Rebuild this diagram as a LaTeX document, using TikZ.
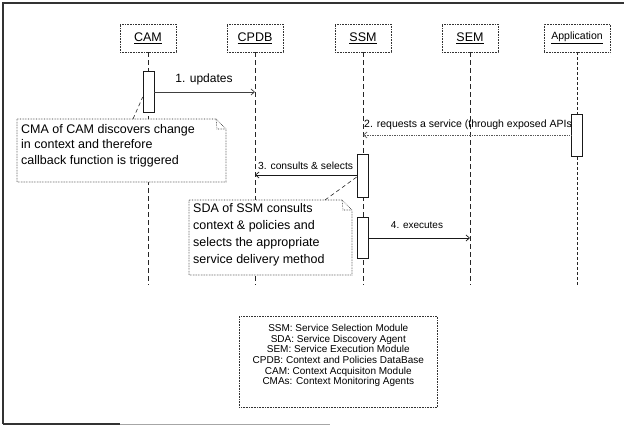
\documentclass[tikz,border=0pt]{standalone}
\usepackage{fontspec}
\setmainfont{Liberation Sans}
\usetikzlibrary{arrows.meta,calc}
\begin{document}
\begin{tikzpicture}[x=1pt,y=-1pt,
  head/.style={draw=black!80, densely dotted, fill=white, minimum width=56pt, minimum height=28pt, inner sep=0pt, line width=0.6pt, font=\fontsize{12.5}{14}\selectfont},
  life/.style={draw=black!85, dash pattern=on 5pt off 3pt, line width=0.6pt},
  act/.style={draw=black!90, fill=white, minimum width=11pt, inner sep=0pt, line width=0.6pt},
  msg/.style={draw=black!90, line width=0.7pt, -{Straight Barb[length=3.5pt,width=6pt]}},
  msgdot/.style={msg, draw=black!65, densely dotted},
  notebox/.style={draw=black!85, densely dotted, fill=white, line width=0.6pt},
  notetxt/.style={inner sep=0pt, align=left, anchor=north west},
  noteline/.style={draw=black!85, dash pattern=on 4pt off 3pt, line width=0.6pt},
  lbl/.style={inner sep=1pt},
  frameline/.style={draw=black!80, line width=1.2pt}
]
\useasboundingbox (0,0) rectangle (624,428);

% frame
\draw[frameline] (3,424) -- (3,3) -- (624,3);
\draw[frameline] (3,424) -- (120,424);
\draw[draw=black!35, line width=0.8pt] (120,424) -- (330,424);

% headers
\node[head] (cam)  at (148,38) {\underline{CAM}};
\node[head] (cpdb) at (255,38) {\underline{CPDB}};
\node[head] (ssm)  at (363,38) {\underline{SSM}};
\node[head] (sem)  at (470,38) {\underline{SEM}};
\node[head, minimum width=66pt, font=\fontsize{10.5}{12}\selectfont] (app) at (577,38) {\underline{Application}};

% lifeline ends
\coordinate (camE)  at (148,285);
\coordinate (cpdbE) at (255,285);
\coordinate (ssmE)  at (363,285);
\coordinate (semE)  at (470,285);
\coordinate (appE)  at (577,285);

\draw[life] (cam.south) -- (camE);
\draw[life] (cpdb.south) -- (cpdbE);
\draw[life] (ssm.south) -- (ssmE);
\draw[life] (sem.south) -- (semE);
\draw[life, dash pattern=on 3pt off 2pt] (app.south) -- (appE);

% activations
\node[act, minimum height=41pt] (camact) at (148.5,91.5) {};
\node[act, minimum height=42pt] (appact) at (577,135) {};
\node[act, minimum height=43pt] (ssmact1) at (362.5,175.5) {};
\node[act, minimum height=41pt] (ssmact2) at (362.5,237.5) {};

% message targets
\coordinate (m1e) at (255,92);
\coordinate (m2e) at (363,135);
\coordinate (m3e) at (255,175);
\coordinate (m4e) at (470,238);

% messages
\draw[msg, draw=black!75] (camact.east |- m1e) -- (m1e);
\node[lbl, font=\fontsize{12}{14}\selectfont, anchor=south] (l1) at (204,86) {1. updates};

\draw[msgdot] (appact.west |- m2e) -- (m2e);
\node[lbl, font=\fontsize{10.5}{12}\selectfont, anchor=south west] (l2) at (363,131) {2. requests a service (through exposed APIs};

\draw[msg] (ssmact1.west |- m3e) -- (m3e);
\node[lbl, font=\fontsize{10.3}{12}\selectfont, anchor=south west] (l3) at (257,171) {3. consults \& selects};

\draw[msg] (ssmact2.east |- m4e) -- (m4e);
\node[lbl, font=\fontsize{10}{12}\selectfont, anchor=south] (l4) at (417,230) {4. executes};

% note 1
\draw[notebox] (17,119) -- (216,119) -- (226,129) -- (226,182) -- (17,182) -- cycle;
\draw[notebox, fill=none] (216,119) -- (217,129) -- (226,129);
\node[notetxt, font=\fontsize{12.5}{15.5}\selectfont] (n1) at (21,124) {CMA of CAM discovers change\\in context and therefore\\callback function is triggered};
\coordinate (n1tip) at (133,119);
\draw[noteline] (n1tip) -- (camact.west |- 0,97);

% note 2
\draw[notebox] (189,200) -- (342,200) -- (352,210) -- (352,275) -- (189,275) -- cycle;
\draw[notebox, fill=none] (342,200) -- (343,210) -- (352,210);
\node[notetxt, font=\fontsize{12.5}{17}\selectfont] (n2) at (193,203) {SDA of SSM consults\\context \& policies and\\selects the appropriate\\service delivery method};
\coordinate (n2tip) at (325,200);
\draw[noteline] (n2tip) -- (ssmact1.west |- 0,177);

% legend
\node[draw=black!80, densely dotted, line width=0.6pt, minimum width=198pt, minimum height=91pt, inner sep=0pt, anchor=north west] (leg) at (239,316) {};
\node[inner sep=0pt, align=center, anchor=north, font=\fontsize{10}{10.7}\selectfont] (legt) at (leg.center |- 0,324) {SSM: Service Selection Module\\SDA: Service Discovery Agent\\SEM: Service Execution Module\\CPDB: Context and Policies DataBase\\CAM: Context Acquisiton Module\\CMAs: Context Monitoring Agents};
\end{tikzpicture}
\end{document}
